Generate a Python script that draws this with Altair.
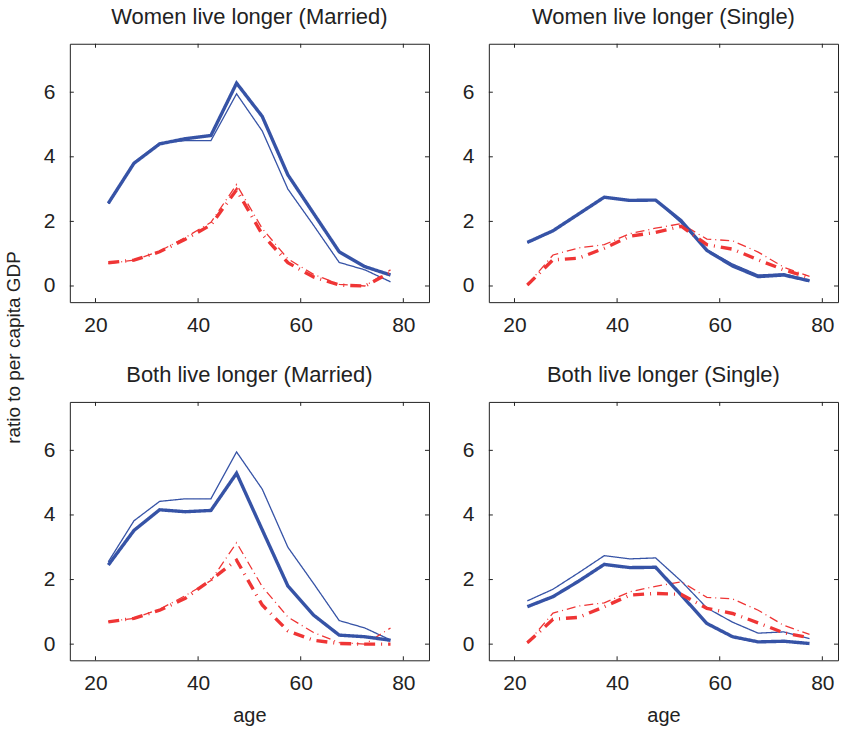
import altair as alt
import pandas as pd

ages = [22.5, 27.5, 32.5, 37.5, 42.5, 47.5, 52.5, 57.5, 62.5, 67.5, 72.5, 77.5]

# Married baseline (thin lines, same in both married panels)
married_base_blue = [2.55, 3.82, 4.42, 4.5, 4.5, 5.95, 4.8, 3.0, 1.88, 0.73, 0.5, 0.13]
married_base_red = [0.7, 0.8, 1.08, 1.5, 1.97, 3.14, 1.78, 0.84, 0.36, 0.05, 0.0, 0.5]
# Single baseline (thin lines)
single_base_blue = [1.34, 1.7, 2.21, 2.74, 2.64, 2.67, 1.95, 1.12, 0.68, 0.34, 0.38, 0.17]
single_base_red = [0.03, 0.96, 1.18, 1.28, 1.62, 1.79, 1.93, 1.45, 1.4, 1.05, 0.58, 0.3]

# Scenario lines (thick)
women_married_blue = [2.56, 3.8, 4.4, 4.56, 4.66, 6.28, 5.25, 3.44, 2.25, 1.06, 0.6, 0.34]
women_married_red = [0.72, 0.8, 1.06, 1.45, 1.89, 2.98, 1.6, 0.72, 0.28, 0.03, 0.0, 0.42]
women_single_blue = [1.35, 1.71, 2.23, 2.75, 2.65, 2.66, 2.02, 1.1, 0.62, 0.29, 0.34, 0.16]
women_single_red = [0.03, 0.81, 0.86, 1.17, 1.54, 1.66, 1.85, 1.28, 1.14, 0.81, 0.5, 0.26]
both_married_blue = [2.45, 3.52, 4.16, 4.1, 4.14, 5.29, 3.54, 1.8, 0.9, 0.28, 0.23, 0.12]
both_married_red = [0.69, 0.8, 1.05, 1.42, 1.99, 2.6, 1.21, 0.41, 0.12, 0.02, 0.0, 0.0]
both_single_blue = [1.16, 1.47, 1.95, 2.47, 2.37, 2.38, 1.52, 0.64, 0.23, 0.07, 0.09, 0.02]
both_single_red = [0.04, 0.77, 0.83, 1.16, 1.52, 1.57, 1.54, 1.11, 0.95, 0.66, 0.35, 0.2]

x_ticks = [20, 40, 60, 80]
y_ticks = [0, 2, 4, 6]

BLUE = "#3653a6"
RED = "#ef3535"
TXT = "#222222"
FONT = "Liberation Sans"
H = 259
PX_PER_YEAR = 360 / 70.0

yscale = alt.Scale(domain=[-0.5, 7.5], nice=False, zero=False)

series_style = [
    # key, color, width, dash
    ("base_blue", BLUE, 1.3, [1, 0]),
    ("base_red", RED, 1.3, [9, 4, 1, 4]),
    ("scen_blue", BLUE, 3.4, [1, 0]),
    ("scen_red", RED, 3.4, [11, 6, 1, 6]),
]


def panel(title, blue, red, base_blue, base_red, bottom, width, ytitle=False):
    xscale = alt.Scale(domain=[15, 15 + width / PX_PER_YEAR], nice=False, zero=False)
    vals = {"base_blue": base_blue, "base_red": base_red, "scen_blue": blue, "scen_red": red}
    xaxis = alt.Axis(values=x_ticks, grid=False, domain=False, ticks=False, labelPadding=12,
                     labelFontSize=21, labelFont=FONT, labelColor=TXT,
                     title="age" if bottom else None, titleFontSize=20, titleFont=FONT,
                     titleFontWeight="normal", titleColor=TXT, titlePadding=12)
    yax_kwargs = dict(values=y_ticks, grid=False, domain=False, ticks=False, labelPadding=15,
                      labelFontSize=21, labelFont=FONT, labelColor=TXT)
    if ytitle:
        yax_kwargs.update(title="ratio to per capita GDP", titleFontSize=19, titleFont=FONT,
                          titleFontWeight="normal", titleColor=TXT, titleX=-46, titleY=304)
    else:
        yax_kwargs.update(title=None)
    yaxis = alt.Axis(**yax_kwargs)

    layers = []
    for key, color, sw, dash in series_style:
        df = pd.DataFrame({"age": ages, "value": vals[key]})
        layers.append(
            alt.Chart(df).mark_line(color=color, strokeWidth=sw, strokeDash=dash, clip=True).encode(
                x=alt.X("age:Q", scale=xscale, axis=xaxis),
                y=alt.Y("value:Q", scale=yscale, axis=yaxis),
            )
        )
    xt = pd.DataFrame({"t": x_ticks})
    yt = pd.DataFrame({"t": y_ticks})
    layers.append(alt.Chart(xt).mark_rule(color=TXT, strokeWidth=1).encode(
        x=alt.X("t:Q", scale=xscale), y=alt.value(H), y2=alt.value(H - 4)))
    layers.append(alt.Chart(xt).mark_rule(color=TXT, strokeWidth=1).encode(
        x=alt.X("t:Q", scale=xscale), y=alt.value(0), y2=alt.value(4)))
    layers.append(alt.Chart(yt).mark_rule(color=TXT, strokeWidth=1).encode(
        y=alt.Y("t:Q", scale=yscale), x=alt.value(0), x2=alt.value(4)))
    layers.append(alt.Chart(yt).mark_rule(color=TXT, strokeWidth=1).encode(
        y=alt.Y("t:Q", scale=yscale), x=alt.value(width), x2=alt.value(width - 4)))

    return alt.layer(*layers).properties(
        width=width, height=H,
        title=alt.TitleParams(title, fontSize=22, font=FONT, fontWeight="normal", color=TXT,
                              anchor="middle", offset=14),
    )


p1 = panel("Women live longer (Married)", women_married_blue, women_married_red,
           married_base_blue, married_base_red, bottom=False, width=360, ytitle=True)
p2 = panel("Women live longer (Single)", women_single_blue, women_single_red,
           single_base_blue, single_base_red, bottom=False, width=350)
p3 = panel("Both live longer (Married)", both_married_blue, both_married_red,
           married_base_blue, married_base_red, bottom=True, width=360)
p4 = panel("Both live longer (Single)", both_single_blue, both_single_red,
           single_base_blue, single_base_red, bottom=True, width=350)

chart = alt.concat(p1, p2, p3, p4, columns=2, spacing={"row": 100, "column": 60},
                   bounds="flush").properties(
    padding={"left": 4, "top": 5, "right": 5, "bottom": 2},
    background="white",
).configure_view(stroke=TXT, strokeWidth=1)

chart.save("out.html", embed_options={"renderer": "svg", "actions": False})
